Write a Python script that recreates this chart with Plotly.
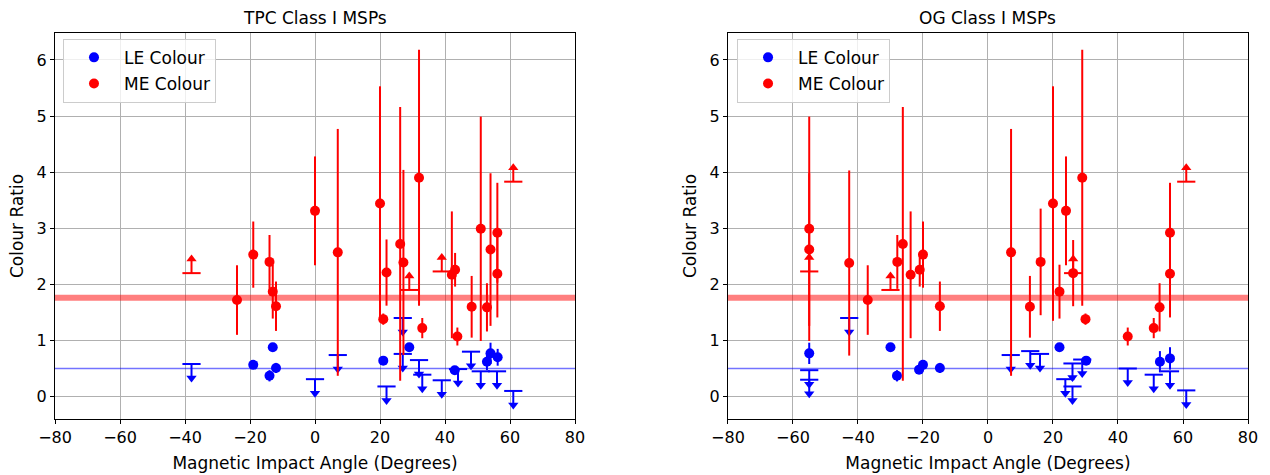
import plotly.graph_objects as go

# ---------------- data ----------------
# TPC Class I MSPs
TPC_LE_x = [-19, -14, -13, -12, 21, 29, 43, 52.9, 54, 56.2]
TPC_LE_y = [0.565, 0.37, 0.88, 0.51, 0.64, 0.88, 0.47, 0.62, 0.77, 0.70]
TPC_LE_err = [0.03, 0.1, 0.03, 0.09, 0.03, 0.03, 0.03, 0.15, 0.19, 0.15]
TPC_LE_ul_x = [-38, 0, 7, 22, 27, 27, 32, 33, 39, 44, 48, 51, 56, 61]
TPC_LE_ul_y = [0.58, 0.31, 0.74, 0.18, 1.40, 0.76, 0.65, 0.39, 0.29, 0.49, 0.80, 0.45, 0.45, 0.10]
TPC_ME_x = [-24, -19, -14, -13, -12, 0, 7, 20, 21, 22, 26.2, 27.2, 32, 33,
            42.1, 43.1, 43.8, 48.2, 51, 52.9, 54, 56.1, 56.1]
TPC_ME_y = [1.72, 2.53, 2.40, 1.87, 1.61, 3.31, 2.57, 3.44, 1.38, 2.21, 2.72, 2.39, 3.90, 1.22,
            2.17, 2.26, 1.07, 1.60, 2.99, 1.59, 2.62, 2.92, 2.19]
TPC_ME_err = [0.62, 0.59, 0.48, 0.48, 0.44, 0.97, 2.2, 2.09, 0.1, 0.59, 2.44, 1.65, 2.28, 0.18,
              1.13, 0.3, 0.16, 0.55, 2.0, 0.43, 1.36, 0.89, 0.78]
TPC_ME_ll_x = [-38, 29, 39, 61]
TPC_ME_ll_y = [2.20, 1.90, 2.23, 3.83]

# OG Class I MSPs
OG_LE_x = [-55, -30, -28, -21.2, -20, -14.8, 22, 30.2, 52.9, 56]
OG_LE_y = [0.77, 0.88, 0.37, 0.48, 0.565, 0.51, 0.88, 0.64, 0.62, 0.68]
OG_LE_err = [0.19, 0.03, 0.1, 0.03, 0.03, 0.09, 0.03, 0.03, 0.19, 0.2]
OG_LE_ul_x = [-55, -55, -42.7, 7, 13, 16, 23.8, 26, 26, 29, 43, 51, 56, 61]
OG_LE_ul_y = [0.47, 0.30, 1.40, 0.74, 0.81, 0.76, 0.31, 0.59, 0.18, 0.66, 0.50, 0.39, 0.45, 0.11]
OG_ME_x = [-55, -55, -42.7, -37, -27.9, -26.2, -23.8, -21, -20, -14.8, 7.1, 12.9, 16.2, 20,
           22, 24, 26.2, 29, 30, 43, 51, 52.8, 56, 56]
OG_ME_y = [2.99, 2.62, 2.38, 1.72, 2.40, 2.72, 2.17, 2.26, 2.53, 1.61, 2.57, 1.60, 2.40, 3.44,
           1.87, 3.31, 2.20, 3.90, 1.38, 1.07, 1.22, 1.59, 2.92, 2.19]
OG_ME_err = [2.0, 1.36, 1.65, 0.62, 0.48, 2.44, 1.13, 0.3, 0.59, 0.44, 2.2, 0.55, 0.95, 2.09,
             0.48, 0.97, 0.59, 2.28, 0.1, 0.16, 0.18, 0.43, 0.89, 0.78]
OG_ME_ll_x = [-55, -30, 26.2, 61]
OG_ME_ll_y = [2.23, 1.90, 2.20, 3.83]

LE_THRESHOLD = 0.5
ME_THRESHOLD = 1.76
TITLES = ["TPC Class I MSPs", "OG Class I MSPs"]
X_RANGE = [-80, 80]
X_TICKS = [-80, -60, -40, -20, 0, 20, 40, 60, 80]
Y_TICKS = [0, 1, 2, 3, 4, 5, 6]

# ---------------- style ----------------
BLUE = "#0000ff"
RED = "#ff0000"
FONT = "DejaVu Sans"
LIM_LEN = 0.25  # length of limit arrows in data units

fig = go.Figure()


def add_panel(col, le, le_ul, me, me_ll, legend_name):
    xa = "x" if col == 1 else "x2"
    ya = "y" if col == 1 else "y2"
    lx, ly, le_e = le
    ulx, uly = le_ul
    mx, my, me_e = me
    llx, lly = me_ll
    # threshold lines (drawn first, under the data)
    fig.add_trace(go.Scatter(
        x=X_RANGE, y=[ME_THRESHOLD, ME_THRESHOLD], mode="lines", xaxis=xa, yaxis=ya,
        showlegend=False, hoverinfo="skip", line=dict(color="rgba(255,0,0,0.5)", width=6)))
    fig.add_trace(go.Scatter(
        x=X_RANGE, y=[LE_THRESHOLD, LE_THRESHOLD], mode="lines", xaxis=xa, yaxis=ya,
        showlegend=False, hoverinfo="skip", line=dict(color="rgba(0,0,255,0.55)", width=1.5)))
    # LE upper limits: cap + line down + arrow
    fig.add_trace(go.Scatter(
        x=ulx, y=uly, mode="markers", xaxis=xa, yaxis=ya, showlegend=False,
        marker=dict(symbol="line-ew", size=13, line=dict(color=BLUE, width=2)),
        error_y=dict(type="data", symmetric=False, array=[0] * len(uly),
                     arrayminus=[LIM_LEN] * len(uly), color=BLUE, thickness=2, width=0)))
    fig.add_trace(go.Scatter(
        x=ulx, y=[v - LIM_LEN for v in uly], mode="markers", xaxis=xa, yaxis=ya,
        showlegend=False, marker=dict(symbol="triangle-down", size=9, color=BLUE)))
    # LE detections
    fig.add_trace(go.Scatter(
        x=lx, y=ly, mode="markers", xaxis=xa, yaxis=ya, name="LE Colour",
        legend=legend_name, legendgroup="le" + legend_name,
        marker=dict(symbol="circle", size=10, color=BLUE),
        error_y=dict(type="data", array=le_e, color=BLUE, thickness=2, width=0)))
    # ME lower limits
    fig.add_trace(go.Scatter(
        x=llx, y=lly, mode="markers", xaxis=xa, yaxis=ya, showlegend=False,
        marker=dict(symbol="line-ew", size=13, line=dict(color=RED, width=2)),
        error_y=dict(type="data", symmetric=False, array=[LIM_LEN] * len(lly),
                     arrayminus=[0] * len(lly), color=RED, thickness=2, width=0)))
    fig.add_trace(go.Scatter(
        x=llx, y=[v + LIM_LEN for v in lly], mode="markers", xaxis=xa, yaxis=ya,
        showlegend=False, marker=dict(symbol="triangle-up", size=9, color=RED)))
    # ME detections
    fig.add_trace(go.Scatter(
        x=mx, y=my, mode="markers", xaxis=xa, yaxis=ya, name="ME Colour",
        legend=legend_name, legendgroup="me" + legend_name,
        marker=dict(symbol="circle", size=10, color=RED),
        error_y=dict(type="data", array=me_e, color=RED, thickness=2, width=0)))
    dom = "x domain" if col == 1 else "x2 domain"
    fig.add_annotation(text=TITLES[col - 1], xref=dom, yref="paper", x=0.5, y=1,
                       xanchor="center", yanchor="bottom", yshift=3, showarrow=False,
                       font=dict(family=FONT, size=17, color="black"))


add_panel(1, (TPC_LE_x, TPC_LE_y, TPC_LE_err), (TPC_LE_ul_x, TPC_LE_ul_y),
          (TPC_ME_x, TPC_ME_y, TPC_ME_err), (TPC_ME_ll_x, TPC_ME_ll_y), "legend")
add_panel(2, (OG_LE_x, OG_LE_y, OG_LE_err), (OG_LE_ul_x, OG_LE_ul_y),
          (OG_ME_x, OG_ME_y, OG_ME_err), (OG_ME_ll_x, OG_ME_ll_y), "legend2")

axis_common = dict(showline=True, mirror=True, linecolor="black", linewidth=1,
                   ticks="outside", ticklen=4, tickcolor="black", showgrid=True,
                   gridcolor="#b0b0b0", gridwidth=1, zeroline=False, automargin=False,
                   tickfont=dict(family=FONT, size=16, color="black"))
xcommon = dict(axis_common, range=X_RANGE, tickvals=X_TICKS,
               title=dict(text="Magnetic Impact Angle (Degrees)",
                          font=dict(family=FONT, size=17, color="black"), standoff=10))
ycommon = dict(axis_common, range=[-0.40, 6.48], tickvals=Y_TICKS,
               title=dict(text="Colour Ratio", font=dict(family=FONT, size=17, color="black"),
                          standoff=8))

legend_common = dict(bgcolor="rgba(255,255,255,0.8)", bordercolor="#cccccc", borderwidth=1,
                     font=dict(family=FONT, size=17, color="black"), xanchor="left",
                     yanchor="top", y=0.985, itemwidth=50, tracegroupgap=1,
                     traceorder="grouped")

fig.update_layout(
    width=1270, height=475,
    margin=dict(l=55, r=22, t=33, b=56, autoexpand=False),
    plot_bgcolor="white", paper_bgcolor="white",
    xaxis=dict(xcommon, domain=[0, 0.4359], anchor="y"),
    yaxis=dict(ycommon, domain=[0, 1], anchor="x"),
    xaxis2=dict(xcommon, domain=[0.5641, 1], anchor="y2"),
    yaxis2=dict(ycommon, domain=[0, 1], anchor="x2"),
    legend=dict(legend_common, x=0.0067),
    legend2=dict(legend_common, x=0.5717),
    font=dict(family=FONT),
)

fig.write_html("out.html")
